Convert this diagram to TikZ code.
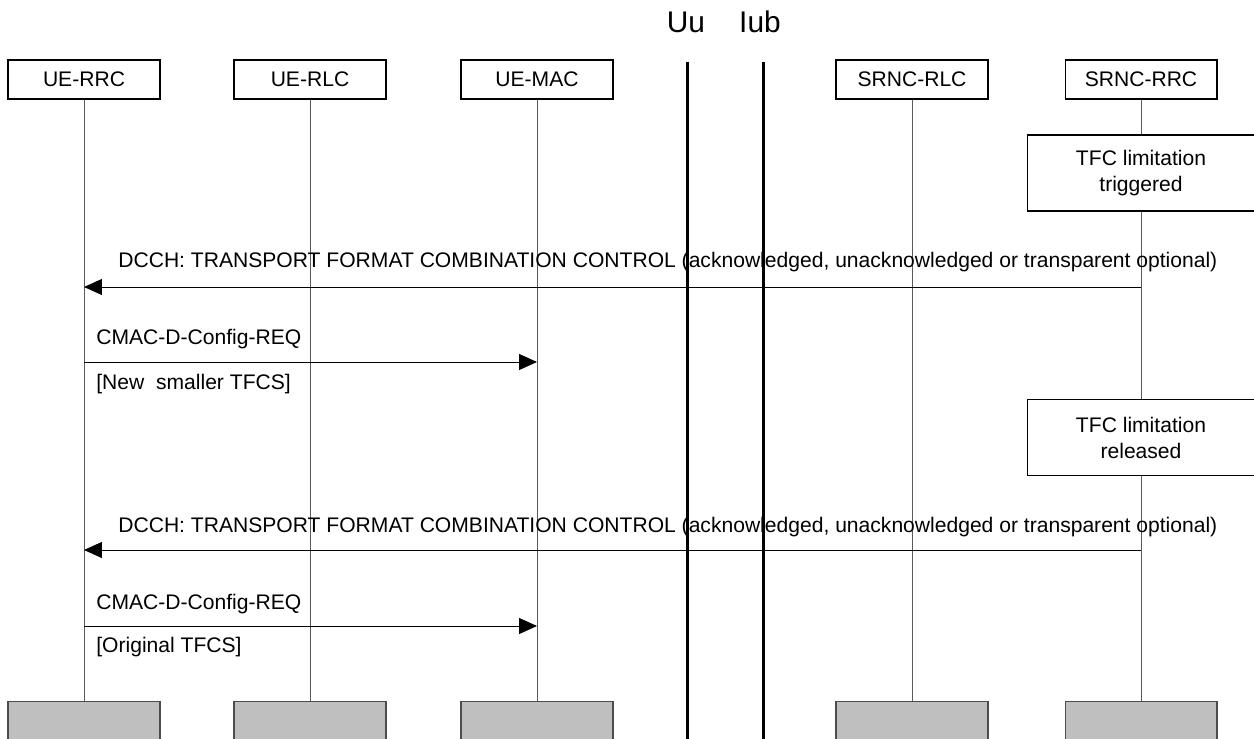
\documentclass[tikz,border=0pt]{standalone}
\usepackage{fontspec}
\setmainfont{Liberation Sans}
\usetikzlibrary{arrows.meta}
\tikzset{>={Triangle[length=0.36cm,width=0.32cm]}}
\tikzset{
  entity/.style={draw,line width=0.6pt,minimum width=3.04cm,minimum height=0.78cm,font=\fontsize{12}{14}\selectfont},
  foot/.style={draw=black!70,line width=0.6pt,fill=black!25,minimum width=3.04cm,minimum height=1.2cm,anchor=north},
  life/.style={black!65,line width=0.55pt},
  iface/.style={line width=1.7pt},
  ifname/.style={anchor=base,font=\fontsize{17}{20}\selectfont,inner sep=0pt},
  msg/.style={->,line width=0.55pt},
  lbl/.style={anchor=west,font=\fontsize{12}{14}\selectfont,inner sep=0pt},
  actbox/.style={draw,line width=0.6pt,minimum width=4.56cm,minimum height=1.52cm,align=center,font=\fontsize{12}{14.8}\selectfont}
}
\begin{document}
\begin{tikzpicture}[x=0.02cm,y=-0.02cm]
  \useasboundingbox (0,0) rectangle (1254,739);
  % entities
  \node[entity] (uerrc)   at (84,79.5)   {UE-RRC};
  \node[entity] (uerlc)   at (310,79.5)  {UE-RLC};
  \node[entity] (uemac)   at (537,79.5)  {UE-MAC};
  \node[entity] (srncrlc) at (912,79.5)  {SRNC-RLC};
  \node[entity] (srncrrc) at (1141,79.5) {SRNC-RRC};
  \foreach\N in {uerrc,uerlc,uemac,srncrlc,srncrrc} {%
    \node[foot] (\N-end) at (\N |- 0,701) {};
    \draw[life] (\N) -- (\N-end);
  }
  % interfaces
  \node[ifname] (uu)  at (686,33) {Uu};
  \node[ifname] (iub) at (760,33) {Iub};
  \draw[iface] (687,62) -- (687,739);
  \draw[iface] (763,62) -- (763,739);
  % TFC limitation boxes
  \node[actbox,fill=white] (trig) at (1141,173) {TFC limitation\\triggered};
  \node[actbox,fill=white] (rel)  at (1141,437.5) {TFC limitation\\released};
  % messages
  \coordinate (m1) at (0,287);
  \coordinate (m2) at (0,362);
  \coordinate (m3) at (0,550);
  \coordinate (m4) at (0,626);
  \draw[msg] (srncrrc |- m1) -- (uerrc |- m1);
  \node[lbl] (l1) at (118,262) {DCCH: TRANSPORT FORMAT COMBINATION CONTROL (acknowledged, unacknowledged or transparent optional)};
  \draw[msg] (uerrc |- m2) -- (uemac |- m2);
  \node[lbl] (l2) at (96,339) {CMAC-D-Config-REQ};
  \node[lbl] (l2b) at (96,384) {[New\ \ smaller TFCS]};
  \draw[msg] (srncrrc |- m3) -- (uerrc |- m3);
  \node[lbl] (l3) at (118,527) {DCCH: TRANSPORT FORMAT COMBINATION CONTROL (acknowledged, unacknowledged or transparent optional)};
  \draw[msg] (uerrc |- m4) -- (uemac |- m4);
  \node[lbl] (l4) at (96,604) {CMAC-D-Config-REQ};
  \node[lbl] (l4b) at (96,647) {[Original TFCS]};
\end{tikzpicture}
\end{document}
